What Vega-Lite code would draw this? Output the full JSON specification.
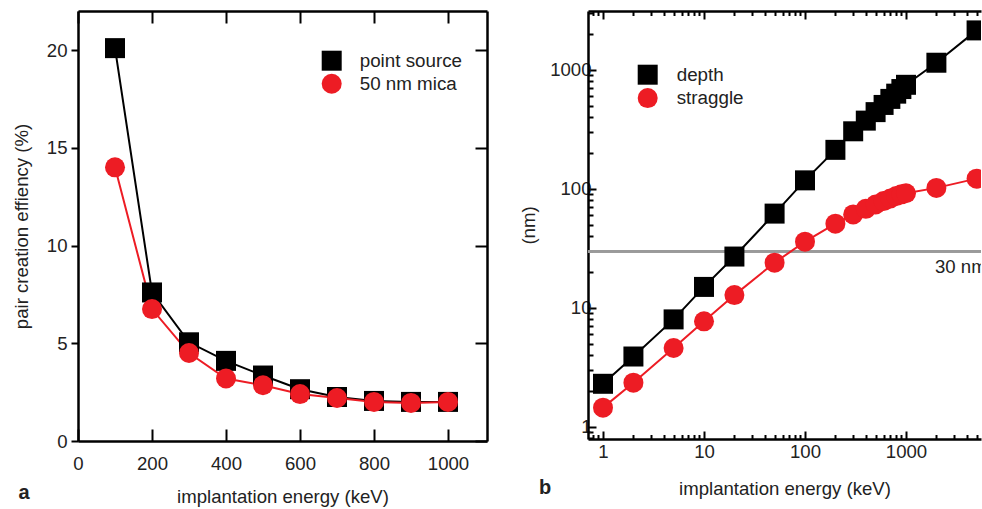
{
  "$schema": "https://vega.github.io/schema/vega-lite/v6.json",
  "autosize": {"type": "pad"},
  "padding": {"left": 12, "top": 10, "right": 0, "bottom": 0},
  "background": "white",
  "bounds": "flush",
  "spacing": 101,
  "config": {
    "font": "Liberation Sans",
    "view": {"stroke": null},
    "axis": {
      "grid": false,
      "domainColor": "black",
      "domainWidth": 2.5,
      "tickColor": "black",
      "tickWidth": 2,
      "labelFont": "Liberation Sans",
      "labelFontSize": 18.6,
      "labelColor": "#222222",
      "titleFont": "Liberation Sans",
      "titleFontSize": 18.6,
      "titleFontWeight": "normal",
      "titleColor": "#222222",
      "labelOverlap": false,
      "labelFlush": false
    },
    "legend": {
      "padding": 0,
      "symbolSize": 400,
      "symbolStrokeWidth": 0,
      "labelFont": "Liberation Sans",
      "labelFontSize": 18.8,
      "labelColor": "#222222",
      "labelOffset": 18,
      "rowPadding": 3
    }
  },
  "resolve": {
    "scale": {"color": "independent", "shape": "independent", "stroke": "independent"},
    "legend": {"color": "independent", "shape": "independent", "stroke": "independent"}
  },
  "datasets": {
    "eff": [
      {"E": 100, "eff": 20.1, "series": "point source"},
      {"E": 200, "eff": 7.6, "series": "point source"},
      {"E": 300, "eff": 5.05, "series": "point source"},
      {"E": 400, "eff": 4.1, "series": "point source"},
      {"E": 500, "eff": 3.35, "series": "point source"},
      {"E": 600, "eff": 2.65, "series": "point source"},
      {"E": 700, "eff": 2.25, "series": "point source"},
      {"E": 800, "eff": 2.05, "series": "point source"},
      {"E": 900, "eff": 2.0, "series": "point source"},
      {"E": 1000, "eff": 2.0, "series": "point source"},
      {"E": 100, "eff": 14.0, "series": "50 nm mica"},
      {"E": 200, "eff": 6.75, "series": "50 nm mica"},
      {"E": 300, "eff": 4.5, "series": "50 nm mica"},
      {"E": 400, "eff": 3.2, "series": "50 nm mica"},
      {"E": 500, "eff": 2.85, "series": "50 nm mica"},
      {"E": 600, "eff": 2.4, "series": "50 nm mica"},
      {"E": 700, "eff": 2.2, "series": "50 nm mica"},
      {"E": 800, "eff": 2.0, "series": "50 nm mica"},
      {"E": 900, "eff": 1.95, "series": "50 nm mica"},
      {"E": 1000, "eff": 2.0, "series": "50 nm mica"}
    ],
    "range": [
      {"E": 1, "nm": 2.3, "series": "depth"},
      {"E": 2, "nm": 3.9, "series": "depth"},
      {"E": 5, "nm": 8.0, "series": "depth"},
      {"E": 10, "nm": 15, "series": "depth"},
      {"E": 20, "nm": 27, "series": "depth"},
      {"E": 50, "nm": 62, "series": "depth"},
      {"E": 100, "nm": 118, "series": "depth"},
      {"E": 200, "nm": 213, "series": "depth"},
      {"E": 300, "nm": 305, "series": "depth"},
      {"E": 400, "nm": 375, "series": "depth"},
      {"E": 500, "nm": 442, "series": "depth"},
      {"E": 600, "nm": 508, "series": "depth"},
      {"E": 700, "nm": 571, "series": "depth"},
      {"E": 800, "nm": 632, "series": "depth"},
      {"E": 900, "nm": 691, "series": "depth"},
      {"E": 1000, "nm": 750, "series": "depth"},
      {"E": 2000, "nm": 1150, "series": "depth"},
      {"E": 5000, "nm": 2150, "series": "depth"},
      {"E": 1, "nm": 1.45, "series": "straggle"},
      {"E": 2, "nm": 2.35, "series": "straggle"},
      {"E": 5, "nm": 4.6, "series": "straggle"},
      {"E": 10, "nm": 7.7, "series": "straggle"},
      {"E": 20, "nm": 12.8, "series": "straggle"},
      {"E": 50, "nm": 24, "series": "straggle"},
      {"E": 100, "nm": 36, "series": "straggle"},
      {"E": 200, "nm": 51, "series": "straggle"},
      {"E": 300, "nm": 61, "series": "straggle"},
      {"E": 400, "nm": 68, "series": "straggle"},
      {"E": 500, "nm": 74, "series": "straggle"},
      {"E": 600, "nm": 79, "series": "straggle"},
      {"E": 700, "nm": 83, "series": "straggle"},
      {"E": 800, "nm": 87, "series": "straggle"},
      {"E": 900, "nm": 90, "series": "straggle"},
      {"E": 1000, "nm": 92, "series": "straggle"},
      {"E": 2000, "nm": 102, "series": "straggle"},
      {"E": 5000, "nm": 122, "series": "straggle"}
    ]
  },
  "hconcat": [
    {
      "width": 409,
      "height": 430,
      "data": {"name": "eff"},
      "resolve": {"axis": {"x": "independent", "y": "independent"}},
      "layer": [
        {
          "mark": {"type": "line", "strokeWidth": 2},
          "encoding": {
            "x": {
              "field": "E", "type": "quantitative",
              "scale": {"domain": [0, 1105.4], "nice": false, "zero": false},
              "axis": {"orient": "bottom", "values": [0, 200, 400, 600, 800, 1000], "format": "d", "title": "implantation energy (keV)", "tickSize": -12, "labelPadding": 25, "titlePadding": 15}
            },
            "y": {
              "field": "eff", "type": "quantitative",
              "scale": {"domain": [0, 22], "nice": false},
              "axis": {"orient": "left", "values": [0, 5, 10, 15, 20], "title": "pair creation effiency (%)", "tickSize": 7, "labelPadding": 4, "titlePadding": 15}
            },
            "stroke": {
              "field": "series", "type": "nominal",
              "scale": {"domain": ["50 nm mica", "point source"], "range": ["#ED1C24", "#000000"]},
              "legend": null
            }
          }
        },
        {
          "mark": {"type": "point", "filled": true, "size": 400, "opacity": 1},
          "encoding": {
            "x": {
              "field": "E", "type": "quantitative",
              "axis": {"orient": "top", "values": [0, 200, 400, 600, 800, 1000], "title": null, "labels": false, "tickSize": -12}
            },
            "y": {
              "field": "eff", "type": "quantitative",
              "axis": {"orient": "right", "values": [0, 5, 10, 15, 20], "title": null, "labels": false, "tickSize": -12}
            },
            "color": {
              "field": "series", "type": "nominal",
              "scale": {"domain": ["point source", "50 nm mica"], "range": ["#000000", "#ED1C24"]},
              "legend": {"orient": "none", "legendX": 243.7, "legendY": 39.7, "title": null}
            },
            "shape": {
              "field": "series", "type": "nominal",
              "scale": {"domain": ["point source", "50 nm mica"], "range": ["square", "circle"]},
              "legend": {"orient": "none", "legendX": 243.7, "legendY": 39.7, "title": null}
            }
          }
        },
        {
          "data": {"values": [{"label": "a"}]},
          "mark": {"type": "text", "fontSize": 20, "fontWeight": "bold", "align": "center", "baseline": "middle", "color": "#222222"},
          "encoding": {
            "x": {"datum": -146, "type": "quantitative", "axis": null},
            "y": {"datum": -2.66, "type": "quantitative", "axis": null},
            "text": {"field": "label"}
          }
        }
      ]
    },
    {
      "width": 393,
      "height": 428,
      "data": {"name": "range"},
      "resolve": {"axis": {"x": "independent", "y": "independent"}},
      "layer": [
        {
          "mark": {"type": "rule", "color": "#9a9a9a", "strokeWidth": 2.2},
          "encoding": {
            "y": {"datum": 30, "type": "quantitative", "axis": null}
          }
        },
        {
          "mark": {"type": "line", "strokeWidth": 2, "clip": true},
          "encoding": {
            "x": {
              "field": "E", "type": "quantitative",
              "scale": {"type": "log", "domain": [0.7101, 5530], "nice": false},
              "axis": {
                "orient": "bottom",
                "values": [0.8, 0.9, 1, 2, 3, 4, 5, 6, 7, 8, 9, 10, 20, 30, 40, 50, 60, 70, 80, 90, 100, 200, 300, 400, 500, 600, 700, 800, 900, 1000, 2000, 3000, 4000, 5000],
                "labelExpr": "datum.value == 1 || datum.value == 10 || datum.value == 100 || datum.value == 1000 ? datum.value : ''",
                "labelFontSize": {"condition": {"test": "datum.value == 1 || datum.value == 10 || datum.value == 100 || datum.value == 1000", "value": 18.6}, "value": 0},
                "tickSize": {"condition": {"test": "datum.value == 1 || datum.value == 10 || datum.value == 100 || datum.value == 1000", "value": -8}, "value": -4.5},
                "title": "implantation energy (keV)",
                "labelPadding": 11,
                "titlePadding": 19
              }
            },
            "y": {
              "field": "nm", "type": "quantitative",
              "scale": {"type": "log", "domain": [0.79, 3130], "nice": false},
              "axis": {
                "orient": "left",
                "values": [0.8, 0.9, 1, 2, 3, 4, 5, 6, 7, 8, 9, 10, 20, 30, 40, 50, 60, 70, 80, 90, 100, 200, 300, 400, 500, 600, 700, 800, 900, 1000, 2000, 3000],
                "labelExpr": "datum.value == 1 || datum.value == 10 || datum.value == 100 || datum.value == 1000 ? datum.value : ''",
                "labelFontSize": {"condition": {"test": "datum.value == 1 || datum.value == 10 || datum.value == 100 || datum.value == 1000", "value": 18.6}, "value": 0},
                "tickSize": {"condition": {"test": "datum.value == 1 || datum.value == 10 || datum.value == 100 || datum.value == 1000", "value": -8}, "value": -5},
                "title": "(nm)",
                "labelPadding": 5,
                "titlePadding": 11
              }
            },
            "stroke": {
              "field": "series", "type": "nominal",
              "scale": {"domain": ["straggle", "depth"], "range": ["#ED1C24", "#000000"]},
              "legend": null
            }
          }
        },
        {
          "mark": {"type": "point", "filled": true, "size": 400, "opacity": 1, "clip": true},
          "encoding": {
            "x": {
              "field": "E", "type": "quantitative",
              "axis": {
                "orient": "top",
                "values": [0.8, 0.9, 1, 2, 3, 4, 5, 6, 7, 8, 9, 10, 20, 30, 40, 50, 60, 70, 80, 90, 100, 200, 300, 400, 500, 600, 700, 800, 900, 1000, 2000, 3000, 4000, 5000],
                "labels": false,
                "title": null,
                "tickSize": {"condition": {"test": "datum.value == 1 || datum.value == 10 || datum.value == 100 || datum.value == 1000", "value": -8}, "value": -4.5}
              }
            },
            "y": {"field": "nm", "type": "quantitative", "axis": null},
            "color": {
              "field": "series", "type": "nominal",
              "scale": {"domain": ["depth", "straggle"], "range": ["#000000", "#ED1C24"]},
              "legend": {"orient": "none", "legendX": 49.7, "legendY": 53.7, "rowPadding": 3.4, "labelOffset": 19, "title": null}
            },
            "shape": {
              "field": "series", "type": "nominal",
              "scale": {"domain": ["depth", "straggle"], "range": ["square", "circle"]},
              "legend": {"orient": "none", "legendX": 49.7, "legendY": 53.7, "rowPadding": 3.4, "labelOffset": 19, "title": null}
            }
          }
        },
        {
          "data": {"values": [{"label": "30 nm"}]},
          "mark": {"type": "text", "fontSize": 18.6, "align": "left", "baseline": "middle", "dy": 16, "clip": true, "color": "#222222"},
          "encoding": {
            "x": {"datum": 1936, "type": "quantitative", "axis": null},
            "y": {"datum": 30, "type": "quantitative", "axis": null},
            "text": {"field": "label"}
          }
        },
        {
          "data": {"values": [{"label": "b"}]},
          "mark": {"type": "text", "fontSize": 20, "fontWeight": "bold", "align": "center", "baseline": "middle", "color": "#222222"},
          "encoding": {
            "x": {"datum": 0.267, "type": "quantitative", "axis": null},
            "y": {"datum": 0.307, "type": "quantitative", "axis": null},
            "text": {"field": "label"}
          }
        }
      ]
    }
  ]
}
